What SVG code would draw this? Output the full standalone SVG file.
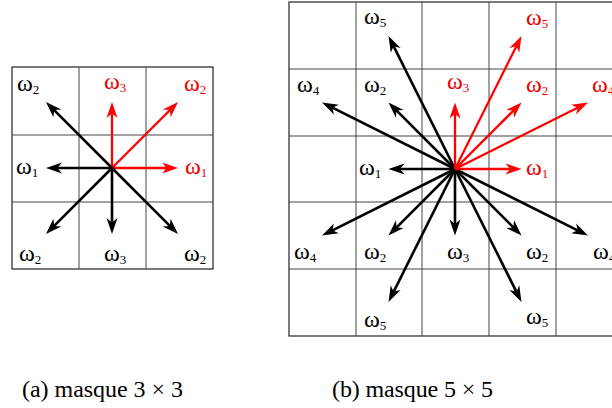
<svg xmlns="http://www.w3.org/2000/svg" width="612" height="408" viewBox="0 0 612 408">
<style>
.grid{fill:none;stroke:#444;stroke-width:1}
.outer{fill:none;stroke:#222;stroke-width:1.2}
.ab{stroke:#000;stroke-width:2.6;fill:none;marker-end:url(#hb)}
.ar{stroke:#f00;stroke-width:2.3;fill:none;marker-end:url(#hr)}
.lb{font-family:"Liberation Serif",serif;font-size:24px;fill:#000}
.lr{font-family:"Liberation Serif",serif;font-size:24px;fill:#e00}
.sub{font-size:13px}
.cap{font-family:"Liberation Serif",serif;font-size:24px;fill:#000}
</style>
<defs>
<marker id="hb" markerUnits="userSpaceOnUse" orient="auto" overflow="visible" refX="0" refY="0" markerWidth="16" markerHeight="10">
<path d="M6,0 L-10,-5.5 L-5.5,0 L-10,5.5 Z" fill="#000"/>
</marker>
<marker id="hr" markerUnits="userSpaceOnUse" orient="auto" overflow="visible" refX="0" refY="0" markerWidth="16" markerHeight="10">
<path d="M6,0 L-10,-5.5 L-5.5,0 L-10,5.5 Z" fill="#f00"/>
</marker>
</defs>
<rect width="612" height="408" fill="#fff"/>
<g id="grid-a">
<rect class="outer" x="12" y="67" width="201" height="202"/>
<path class="grid" d="M79,67V269M146,67V269M12,135H213M12,202H213"/>
</g>
<g id="grid-b">
<rect class="outer" x="289" y="2" width="334" height="334"/>
<path class="grid" d="M356,2V336M422,2V336M489,2V336M556,2V336M289,69H623M289,136H623M289,202H623M289,269H623"/>
</g>
<g id="connectors">
<g id="arrows-a">
<line class="ar" x1="112" y1="168" x2="112" y2="108"/>
<line class="ar" x1="112" y1="168" x2="173.8" y2="106.2"/>
<line class="ar" x1="112" y1="168" x2="172" y2="168"/>
<line class="ab" x1="112" y1="168" x2="52" y2="168"/>
<line class="ab" x1="112" y1="168" x2="50.2" y2="106.2"/>
<line class="ab" x1="112" y1="168" x2="50.2" y2="229.8"/>
<line class="ab" x1="112" y1="168" x2="112" y2="228"/>
<line class="ab" x1="112" y1="168" x2="173.8" y2="229.8"/>
</g>
<g id="arrows-b">
<line class="ab" x1="455" y1="169" x2="394.5" y2="169"/>
<line class="ab" x1="455" y1="169" x2="392.7" y2="106.7"/>
<line class="ab" x1="455" y1="169" x2="327.4" y2="105.2"/>
<line class="ab" x1="455" y1="169" x2="391.2" y2="41.4"/>
<line class="ab" x1="455" y1="169" x2="455" y2="229.5"/>
<line class="ab" x1="455" y1="169" x2="392.7" y2="231.3"/>
<line class="ab" x1="455" y1="169" x2="517.3" y2="231.3"/>
<line class="ab" x1="455" y1="169" x2="327.4" y2="232.8"/>
<line class="ab" x1="455" y1="169" x2="582.6" y2="232.8"/>
<line class="ab" x1="455" y1="169" x2="391.2" y2="296.6"/>
<line class="ab" x1="455" y1="169" x2="518.8" y2="296.6"/>
<line class="ar" x1="455" y1="169" x2="455" y2="108.5"/>
<line class="ar" x1="455" y1="169" x2="517.3" y2="106.7"/>
<line class="ar" x1="455" y1="169" x2="518.8" y2="41.4"/>
<line class="ar" x1="455" y1="169" x2="582.6" y2="105.2"/>
<line class="ar" x1="455" y1="169" x2="515.5" y2="169"/>
</g>
</g>
<g id="labels-a">
<text class="lb" x="17" y="91">ω<tspan class="sub" dy="3">2</tspan></text>
<text class="lr" x="104" y="89">ω<tspan class="sub" dy="3">3</tspan></text>
<text class="lr" x="184" y="91">ω<tspan class="sub" dy="3">2</tspan></text>
<text class="lb" x="16" y="174">ω<tspan class="sub" dy="3">1</tspan></text>
<text class="lr" x="185" y="174">ω<tspan class="sub" dy="3">1</tspan></text>
<text class="lb" x="19" y="261">ω<tspan class="sub" dy="3">2</tspan></text>
<text class="lb" x="104" y="261">ω<tspan class="sub" dy="3">3</tspan></text>
<text class="lb" x="184" y="261">ω<tspan class="sub" dy="3">2</tspan></text>
</g>
<g id="labels-b">
<text class="lb" x="364" y="24">ω<tspan class="sub" dy="3">5</tspan></text>
<text class="lr" x="526" y="25">ω<tspan class="sub" dy="3">5</tspan></text>
<text class="lb" x="297" y="92">ω<tspan class="sub" dy="3">4</tspan></text>
<text class="lb" x="364" y="92">ω<tspan class="sub" dy="3">2</tspan></text>
<text class="lr" x="447" y="89">ω<tspan class="sub" dy="3">3</tspan></text>
<text class="lr" x="526" y="92">ω<tspan class="sub" dy="3">2</tspan></text>
<text class="lr" x="592" y="92">ω<tspan class="sub" dy="3">4</tspan></text>
<text class="lb" x="359" y="175">ω<tspan class="sub" dy="3">1</tspan></text>
<text class="lr" x="526" y="175">ω<tspan class="sub" dy="3">1</tspan></text>
<text class="lb" x="294" y="259">ω<tspan class="sub" dy="3">4</tspan></text>
<text class="lb" x="364" y="259">ω<tspan class="sub" dy="3">2</tspan></text>
<text class="lb" x="447" y="259">ω<tspan class="sub" dy="3">3</tspan></text>
<text class="lb" x="526" y="259">ω<tspan class="sub" dy="3">2</tspan></text>
<text class="lb" x="593" y="259">ω<tspan class="sub" dy="3">4</tspan></text>
<text class="lb" x="364" y="327">ω<tspan class="sub" dy="3">5</tspan></text>
<text class="lb" x="526" y="324">ω<tspan class="sub" dy="3">5</tspan></text>
</g>
<g id="captions">
<text class="cap" x="22" y="397" textLength="161">(a) masque 3 × 3</text>
<text class="cap" x="332" y="397" textLength="161">(b) masque 5 × 5</text>
</g>
</svg>
